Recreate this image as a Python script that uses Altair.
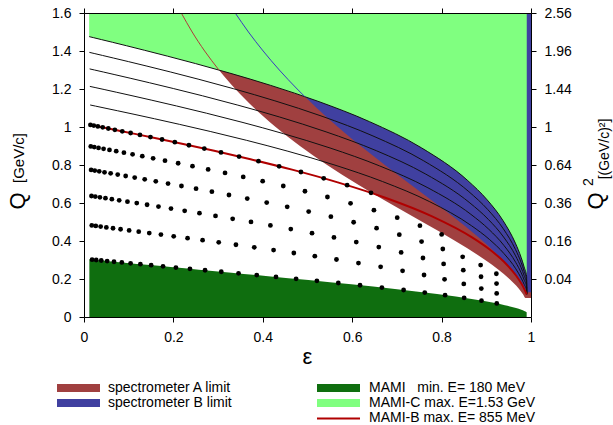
import altair as alt
import pandas as pd

# ---------------- axes ----------------
x_domain = [0, 1]
y_domain = [0, 1.6]
x_ticks = [0, 0.2, 0.4, 0.6, 0.8, 1]
y_ticks = [0, 0.2, 0.4, 0.6, 0.8, 1.0, 1.2, 1.4, 1.6]
right_ticks = [0.2, 0.4, 0.6, 0.8, 1.0, 1.2, 1.4, 1.6]
right_labels = ["0.04", "0.16", "0.36", "0.64", "1", "1.44", "1.96", "2.56"]

legend_labels = ["spectrometer A limit", "spectrometer B limit",
                 "MAMI\u00a0\u00a0\u00a0min. E= 180 MeV", "MAMI-C max. E=1.53 GeV",
                 "MAMI-B max. E= 855 MeV"]

# ---------------- beam-energy curves (eps, Q) ----------------
eps_1530 = [0.0115, 0.0218, 0.0396, 0.0639, 0.0955, 0.1358, 0.1865, 0.2493, 0.3260, 0.4176, 0.5233, 0.6388, 0.7549, 0.8587, 0.9018, 0.9375, 0.9651, 0.9778, 0.9846, 0.9902, 0.9905]
q_1530 = [1.4757, 1.4699, 1.4597, 1.4458, 1.4274, 1.4036, 1.3731, 1.3339, 1.2837, 1.2190, 1.1355, 1.0280, 0.8904, 0.7175, 0.6169, 0.5070, 0.3888, 0.3143, 0.2635, 0.2118, 0.12]
eps_1395 = [0.0120, 0.0227, 0.0413, 0.0664, 0.0992, 0.1408, 0.1929, 0.2571, 0.3350, 0.4271, 0.5325, 0.6464, 0.7600, 0.8611, 0.9032, 0.9381, 0.9653, 0.9779, 0.9847, 0.9902, 0.9905]
q_1395 = [1.3929, 1.3870, 1.3767, 1.3627, 1.3443, 1.3204, 1.2899, 1.2509, 1.2012, 1.1377, 1.0565, 0.9529, 0.8219, 0.6594, 0.5657, 0.4641, 0.3553, 0.2870, 0.2405, 0.1932, 0.12]
eps_1260 = [0.0126, 0.0237, 0.0431, 0.0692, 0.1032, 0.1462, 0.1997, 0.2653, 0.3442, 0.4368, 0.5415, 0.6538, 0.7648, 0.8633, 0.9044, 0.9387, 0.9656, 0.9780, 0.9847, 0.9902, 0.9905]
q_1260 = [1.3058, 1.2999, 1.2895, 1.2754, 1.2569, 1.2330, 1.2026, 1.1641, 1.1151, 1.0531, 0.9745, 0.8755, 0.7518, 0.6004, 0.5140, 0.4209, 0.3217, 0.2596, 0.2174, 0.1747, 0.12]
eps_1125 = [0.0131, 0.0248, 0.0450, 0.0722, 0.1074, 0.1518, 0.2068, 0.2737, 0.3535, 0.4464, 0.5505, 0.6609, 0.7694, 0.8654, 0.9056, 0.9392, 0.9657, 0.9781, 0.9848, 0.9903, 0.9905]
q_1125 = [1.2137, 1.2078, 1.1974, 1.1832, 1.1647, 1.1409, 1.1108, 1.0728, 1.0250, 0.9648, 0.8895, 0.7956, 0.6800, 0.5405, 0.4617, 0.3773, 0.2879, 0.2322, 0.1943, 0.1561, 0.12]
eps_990 = [0.0138, 0.0259, 0.0470, 0.0753, 0.1119, 0.1577, 0.2141, 0.2823, 0.3631, 0.4561, 0.5592, 0.6677, 0.7736, 0.8673, 0.9067, 0.9397, 0.9659, 0.9781, 0.9848, 0.9903, 0.9905]
q_990 = [1.1159, 1.1099, 1.0994, 1.0853, 1.0669, 1.0434, 1.0137, 0.9766, 0.9302, 0.8725, 0.8010, 0.7131, 0.6065, 0.4797, 0.4088, 0.3334, 0.2539, 0.2046, 0.1712, 0.1374, 0.12]
eps_855 = [0.0144, 0.0271, 0.0492, 0.0787, 0.1166, 0.1639, 0.2218, 0.2912, 0.3726, 0.4655, 0.5676, 0.6741, 0.7775, 0.8690, 0.9076, 0.9402, 0.9661, 0.9782, 0.9848, 0.9903]
q_855 = [1.0110, 1.0050, 0.9947, 0.9807, 0.9625, 0.9394, 0.9105, 0.8746, 0.8301, 0.7755, 0.7086, 0.6277, 0.5310, 0.4178, 0.3553, 0.2891, 0.2198, 0.1770, 0.1480, 0.1188]
eps_180 = [0.0120, 0.0181, 0.0338, 0.0607, 0.0961, 0.1403, 0.1938, 0.2570, 0.3299, 0.4121, 0.5022, 0.5980, 0.6956, 0.7899, 0.8742, 0.9104, 0.9414, 0.9665, 0.9784, 0.9849, 0.9903]
q_180 = [0.3035, 0.3019, 0.2984, 0.2924, 0.2845, 0.2747, 0.2630, 0.2491, 0.2332, 0.2150, 0.1946, 0.1719, 0.1472, 0.1205, 0.0920, 0.0772, 0.0622, 0.0468, 0.0376, 0.0313, 0.0251]

# ---------------- spectrometer limits ----------------
eps_specA = [0.2177, 0.2420, 0.2699, 0.3019, 0.3386, 0.3807, 0.4287, 0.4831, 0.5439, 0.6109, 0.6828, 0.7573, 0.8306, 0.8975, 0.9266, 0.9518, 0.9724, 0.9821, 0.9875, 1.0]
q_specA = [1.6, 1.5, 1.4, 1.3, 1.2, 1.1, 1.0, 0.9, 0.8, 0.7, 0.6, 0.5, 0.4, 0.3, 0.25, 0.2, 0.15, 0.12, 0.10, 0.10]
eps_specB = [0.3383, 0.3679, 0.4008, 0.4370, 0.4769, 0.4939, 0.5206, 0.5680, 0.6190, 0.6730, 0.7290, 0.7856, 0.8408, 0.8919, 0.9362, 0.9548, 0.9706, 0.9833, 0.9874, 1.0]
q_specB = [1.6, 1.5, 1.4, 1.3, 1.2, 1.16, 1.1, 1.0, 0.9, 0.8, 0.7, 0.6, 0.5, 0.4, 0.3, 0.25, 0.2, 0.15, 0.13, 0.13]
specA_line_n = 4   # part of limit curve drawn as a line above the 1.53 GeV curve
specB_line_n = 6

# ---------------- measured kinematics (dots) ----------------
dots_eps_180 = [0.9234, 0.8892, 0.8504, 0.8078, 0.7623, 0.7150, 0.6664, 0.6175, 0.5689, 0.5210, 0.4745, 0.4295, 0.3865, 0.3457, 0.3071, 0.2708, 0.2370, 0.2056, 0.1768, 0.1502, 0.1261, 0.1042, 0.0846, 0.0671, 0.0518, 0.0386, 0.0273, 0.0181]
dots_q_180 = [0.0712, 0.0861, 0.1007, 0.1149, 0.1287, 0.1420, 0.1548, 0.1672, 0.1790, 0.1902, 0.2009, 0.2111, 0.2207, 0.2297, 0.2382, 0.2461, 0.2535, 0.2604, 0.2667, 0.2725, 0.2779, 0.2827, 0.2871, 0.2909, 0.2944, 0.2973, 0.2999, 0.3019]
dots_eps_315 = [0.9232, 0.8888, 0.8496, 0.8066, 0.7607, 0.7127, 0.6636, 0.6140, 0.5648, 0.5164, 0.4694, 0.4241, 0.3809, 0.3399, 0.3014, 0.2653, 0.2317, 0.2007, 0.1721, 0.1460, 0.1224, 0.1010, 0.0818, 0.0649, 0.0500, 0.0372, 0.0263, 0.0174]
dots_q_315 = [0.1240, 0.1495, 0.1743, 0.1982, 0.2211, 0.2431, 0.2640, 0.2838, 0.3026, 0.3203, 0.3368, 0.3524, 0.3669, 0.3803, 0.3928, 0.4044, 0.4150, 0.4248, 0.4337, 0.4419, 0.4493, 0.4559, 0.4619, 0.4671, 0.4717, 0.4757, 0.4791, 0.4819]
dots_eps_450 = [0.9229, 0.8882, 0.8485, 0.8045, 0.7583, 0.7095, 0.6595, 0.6091, 0.5592, 0.5101, 0.4626, 0.4170, 0.3736, 0.3326, 0.2942, 0.2583, 0.2252, 0.1946, 0.1666, 0.1411, 0.1180, 0.0972, 0.0787, 0.0623, 0.0480, 0.0356, 0.0252, 0.0167]
dots_q_450 = [0.1761, 0.2119, 0.2463, 0.2792, 0.3105, 0.3401, 0.3680, 0.3941, 0.4186, 0.4414, 0.4626, 0.4821, 0.5002, 0.5169, 0.5322, 0.5462, 0.5590, 0.5707, 0.5812, 0.5908, 0.5994, 0.6071, 0.6140, 0.6201, 0.6253, 0.6299, 0.6337, 0.6368]
dots_eps_585 = [0.9225, 0.8873, 0.8471, 0.8027, 0.7552, 0.7054, 0.6545, 0.6032, 0.5523, 0.5026, 0.4546, 0.4087, 0.3652, 0.3243, 0.2861, 0.2507, 0.2180, 0.1880, 0.1606, 0.1358, 0.1134, 0.0932, 0.0754, 0.0596, 0.0459, 0.0340, 0.0241, 0.0159]
dots_q_585 = [0.2277, 0.2733, 0.3167, 0.3580, 0.3969, 0.4333, 0.4673, 0.4988, 0.5280, 0.5549, 0.5797, 0.6024, 0.6232, 0.6422, 0.6594, 0.6752, 0.6894, 0.7023, 0.7140, 0.7244, 0.7338, 0.7422, 0.7496, 0.7561, 0.7617, 0.7666, 0.7706, 0.7740]
dots_eps_720 = [0.8001, 0.7515, 0.7007, 0.6486, 0.5963, 0.5446, 0.4943, 0.4458, 0.3997, 0.3562, 0.3155, 0.2777, 0.2427, 0.2106, 0.1812, 0.1546, 0.1304, 0.1087, 0.0893, 0.0721, 0.0570, 0.0438, 0.0325, 0.0229, 0.0151]
dots_q_720 = [0.4348, 0.4805, 0.5230, 0.5623, 0.5985, 0.6316, 0.6619, 0.6895, 0.7146, 0.7375, 0.7582, 0.7769, 0.7938, 0.8091, 0.8228, 0.8351, 0.8462, 0.8560, 0.8647, 0.8725, 0.8792, 0.8851, 0.8901, 0.8943, 0.8977]
dots_eps_855 = [0.6421, 0.5887, 0.5363, 0.4853, 0.4365, 0.3903, 0.3469, 0.3065, 0.2691, 0.2347, 0.2032, 0.1746, 0.1486, 0.1252, 0.1043, 0.0856, 0.0690, 0.0544, 0.0418, 0.0310, 0.0219, 0.0144]
dots_q_855 = [0.6536, 0.6936, 0.7301, 0.7631, 0.7930, 0.8201, 0.8445, 0.8664, 0.8862, 0.9039, 0.9199, 0.9342, 0.9469, 0.9583, 0.9684, 0.9774, 0.9853, 0.9922, 0.9981, 1.0032, 1.0075, 1.0110]

# ---------------- colours ----------------
C_LIGHT = "#80FF80"
C_DARK = "#0F6E0F"
C_RED = "#A04040"
C_BLUE = "#4040A0"
C_855 = "#B00000"
FONT = "Liberation Sans"

# ---------------- tables ----------------
ytop = y_domain[1]
df_A = pd.DataFrame({"eps": eps_specA, "q": q_specA, "top": ytop})
df_B = pd.DataFrame({"eps": eps_specB, "q": q_specB, "top": ytop})
df_G = pd.DataFrame({"eps": eps_1530, "q": q_1530, "top": ytop})
df_D = pd.DataFrame({"eps": eps_180, "q": q_180})
lines = []
for name, e, q in [("1530", eps_1530, q_1530), ("1395", eps_1395, q_1395), ("1260", eps_1260, q_1260),
                   ("1125", eps_1125, q_1125), ("990", eps_990, q_990)]:
    lines.append(pd.DataFrame({"eps": e, "q": q, "E": name}))
df_lines = pd.concat(lines)
df_855 = pd.DataFrame({"eps": eps_855, "q": q_855})
df_Aline = pd.DataFrame({"eps": eps_specA[:specA_line_n], "q": q_specA[:specA_line_n]})
df_Bline = pd.DataFrame({"eps": eps_specB[:specB_line_n], "q": q_specB[:specB_line_n]})
dots = []
for e, q in [(dots_eps_180, dots_q_180), (dots_eps_315, dots_q_315), (dots_eps_450, dots_q_450),
             (dots_eps_585, dots_q_585), (dots_eps_720, dots_q_720), (dots_eps_855, dots_q_855)]:
    dots.append(pd.DataFrame({"eps": e, "q": q}))
df_dots = pd.concat(dots)

xs = alt.Scale(domain=x_domain, nice=False, zero=False)
ys = alt.Scale(domain=y_domain, nice=False, zero=True)


def X(f="eps", axis=None):
    return alt.X(f"{f}:Q", scale=xs, axis=axis)


def Y(f="q", axis=None):
    return alt.Y(f"{f}:Q", scale=ys, axis=axis)


red_area = alt.Chart(df_A).mark_area(color=C_RED, opacity=1, interpolate="monotone").encode(
    x=X(), y=Y(), y2=alt.Y2("top:Q"))
blue_area = alt.Chart(df_B).mark_area(color=C_BLUE, opacity=1, interpolate="monotone").encode(
    x=X(), y=Y(), y2=alt.Y2("top:Q"))
green_area = alt.Chart(df_G).mark_area(color=C_LIGHT, opacity=1, interpolate="monotone").encode(
    x=X(), y=Y(), y2=alt.Y2("top:Q"))
dark_area = alt.Chart(df_D).mark_area(color=C_DARK, opacity=1, interpolate="monotone").encode(
    x=X(), y=Y())
black_lines = alt.Chart(df_lines).mark_line(color="#111111", strokeWidth=1, interpolate="monotone").encode(
    x=X(), y=Y(), detail="E:N")
a_line = alt.Chart(df_Aline).mark_line(color="#B03A3A", strokeWidth=1, interpolate="monotone").encode(x=X(), y=Y())
b_line = alt.Chart(df_Bline).mark_line(color="#3A3AC0", strokeWidth=1, interpolate="monotone").encode(x=X(), y=Y())
line_855 = alt.Chart(df_855).mark_line(color=C_855, strokeWidth=2, interpolate="monotone").encode(x=X(), y=Y())
dots_layer = alt.Chart(df_dots).mark_circle(color="black", size=23, opacity=1).encode(x=X(), y=Y())

# axes
ax_common = dict(tickSize=5, tickColor="black", domainColor="black", labelColor="black",
                 labelFont=FONT, labelFontSize=14, grid=False, zindex=3, labelFlush=False,
                 labelOverlap=False, title=None, domainWidth=1, tickWidth=1)
one = pd.DataFrame({"eps": [0.5], "q": [0.8]})
axes_bl = alt.Chart(one).mark_point(opacity=0).encode(
    x=X(axis=alt.Axis(orient="bottom", values=x_ticks, format=".1~f", labelPadding=8, **ax_common)),
    y=Y(axis=alt.Axis(orient="left", values=y_ticks, format=".1~f", labelPadding=8, **ax_common)))
rexpr = "''"
for v, lab in reversed(list(zip(right_ticks, right_labels))):
    rexpr = f"datum.value == {v} ? '{lab}' : ({rexpr})"
axes_tr = alt.Chart(one).mark_point(opacity=0).encode(
    x=X(axis=alt.Axis(orient="top", values=x_ticks, labels=False, **ax_common)),
    y=Y(axis=alt.Axis(orient="right", values=right_ticks, labelExpr=rexpr, labelPadding=8, **ax_common)))


# titles and legend (pixel positions relative to the plot origin)
def txt(s, x, y, size=14, angle=0, align="center"):
    return alt.Chart(one).mark_text(text=s, fontSize=size, font=FONT, angle=angle, align=align,
                                    baseline="middle", color="black").encode(x=alt.value(x), y=alt.value(y))


def box(x1, x2, y1, y2, color):
    return alt.Chart(one).mark_rect(color=color).encode(
        x=alt.value(x1), x2=alt.value(x2), y=alt.value(y1), y2=alt.value(y2))


decor = [
    txt("ε", 223.5, 344, size=22),
    txt("Q", -66, 188, size=22, angle=270),
    txt("[GeV/c]", -65, 145, size=15, angle=270),
    txt("Q", 512, 188, size=22, angle=270),
    txt("2", 505, 169, size=14, angle=270),
    txt("[(GeV/c)²]", 521, 136, size=14, angle=270),
    box(-27, 16, 371, 379, C_RED),
    box(-27, 16, 386, 394, C_BLUE),
    box(233, 276, 371, 379, C_DARK),
    box(233, 276, 386, 394, C_LIGHT),
    alt.Chart(one).mark_rule(color=C_855, strokeWidth=2).encode(
        x=alt.value(233), x2=alt.value(276), y=alt.value(405.5)),
    txt(legend_labels[0], 24, 375, align="left"),
    txt(legend_labels[1], 24, 390, align="left"),
    txt(legend_labels[2], 285, 375, align="left"),
    txt(legend_labels[3], 285, 390, align="left"),
    txt(legend_labels[4], 285, 405, align="left"),
]

chart = alt.layer(
    red_area, blue_area, green_area, dark_area, black_lines, a_line, b_line, line_855, dots_layer,
    axes_bl, axes_tr, *decor
).resolve_axis(x="independent", y="independent").properties(
    width=447, height=304,
    autosize=alt.AutoSizeParams(type="none"),
    padding={"left": 84, "top": 13, "right": 82, "bottom": 108},
).configure_view(stroke=None)

chart.save("out.html", embed_options={"renderer": "svg", "actions": False})
